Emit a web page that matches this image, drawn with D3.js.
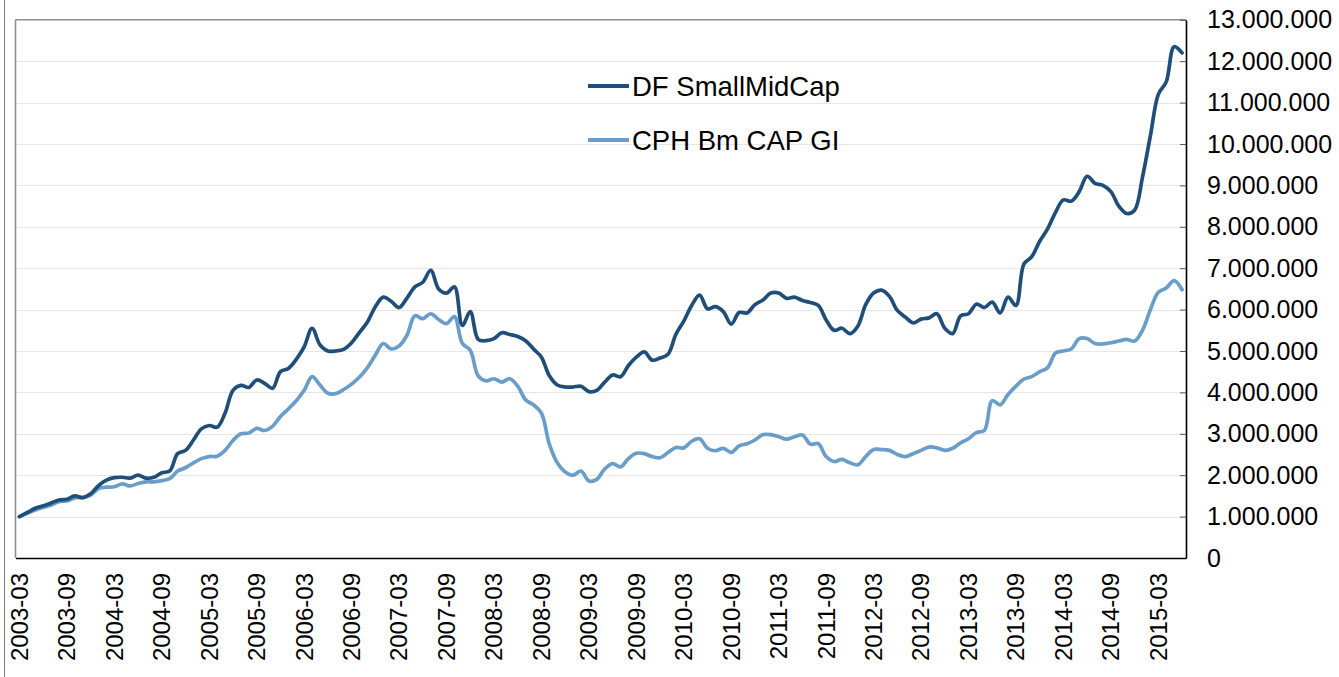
<!DOCTYPE html>
<html>
<head>
<meta charset="utf-8">
<script src="https://cdn.jsdelivr.net/npm/d3@7"></script>
<style>
  html, body { margin: 0; padding: 0; background: #ffffff; }
  svg { display: block; font-family: "Liberation Sans", Arial, Helvetica, sans-serif; }
</style>
</head>
<body>
<svg id="chart" width="1339" height="677"></svg>
<script>
// ---------------- DATA ----------------
const months = [
  "2003-03","2003-04","2003-05","2003-06","2003-07","2003-08","2003-09","2003-10","2003-11","2003-12",
  "2004-01","2004-02","2004-03","2004-04","2004-05","2004-06","2004-07","2004-08","2004-09","2004-10","2004-11","2004-12",
  "2005-01","2005-02","2005-03","2005-04","2005-05","2005-06","2005-07","2005-08","2005-09","2005-10","2005-11","2005-12",
  "2006-01","2006-02","2006-03","2006-04","2006-05","2006-06","2006-07","2006-08","2006-09","2006-10","2006-11","2006-12",
  "2007-01","2007-02","2007-03","2007-04","2007-05","2007-06","2007-07","2007-08","2007-09","2007-10","2007-11","2007-12",
  "2008-01","2008-02","2008-03","2008-04","2008-05","2008-06","2008-07","2008-08","2008-09","2008-10","2008-11","2008-12",
  "2009-01","2009-02","2009-03","2009-04","2009-05","2009-06","2009-07","2009-08","2009-09","2009-10","2009-11","2009-12",
  "2010-01","2010-02","2010-03","2010-04","2010-05","2010-06","2010-07","2010-08","2010-09","2010-10","2010-11","2010-12",
  "2011-01","2011-02","2011-03","2011-04","2011-05","2011-06","2011-07","2011-08","2011-09","2011-10","2011-11","2011-12",
  "2012-01","2012-02","2012-03","2012-04","2012-05","2012-06","2012-07","2012-08","2012-09","2012-10","2012-11","2012-12",
  "2013-01","2013-02","2013-03","2013-04","2013-05","2013-06","2013-07","2013-08","2013-09","2013-10","2013-11","2013-12",
  "2014-01","2014-02","2014-03","2014-04","2014-05","2014-06","2014-07","2014-08","2014-09","2014-10","2014-11","2014-12",
  "2015-01","2015-02","2015-03","2015-04","2015-05","2015-06"
];

// values in millions
const dfSmallMidCap = [
  1.00, 1.10, 1.20, 1.26, 1.33, 1.40, 1.42, 1.50, 1.46, 1.55, 1.75, 1.88,
  1.94, 1.95, 1.93, 2.00, 1.93, 1.95, 2.06, 2.10, 2.52, 2.60, 2.85, 3.12,
  3.20, 3.16, 3.50, 4.05, 4.17, 4.12, 4.30, 4.22, 4.10, 4.50, 4.58, 4.80,
  5.10, 5.55, 5.15, 5.00, 5.00, 5.04, 5.20, 5.45, 5.70, 6.07, 6.30, 6.20,
  6.05, 6.28, 6.55, 6.66, 6.95, 6.50, 6.40, 6.55, 5.62, 5.95, 5.28, 5.25,
  5.30, 5.44, 5.40, 5.35, 5.25, 5.05, 4.85, 4.40, 4.18, 4.13, 4.13, 4.15,
  4.02, 4.05, 4.25, 4.42, 4.38, 4.65, 4.85, 4.98, 4.78, 4.83, 4.92, 5.40,
  5.72, 6.10, 6.35, 6.02, 6.07, 5.95, 5.65, 5.93, 5.92, 6.12, 6.23, 6.40,
  6.40, 6.27, 6.30, 6.22, 6.17, 6.10, 5.75, 5.50, 5.55, 5.42, 5.60, 6.12,
  6.40, 6.47, 6.32, 5.98, 5.82, 5.68, 5.77, 5.80, 5.90, 5.55, 5.42, 5.85,
  5.90, 6.13, 6.05, 6.18, 5.92, 6.30, 6.10, 7.10, 7.28, 7.65, 7.95, 8.35,
  8.65, 8.62, 8.85, 9.22, 9.05, 9.00, 8.85, 8.50, 8.32, 8.40, 9.20, 10.20,
  11.20, 11.50, 12.35, 12.20
];

const cphBmCapGI = [
  1.00, 1.08, 1.16, 1.22, 1.28, 1.36, 1.38, 1.45, 1.46, 1.52, 1.68, 1.71,
  1.72, 1.79, 1.74, 1.80, 1.84, 1.84, 1.87, 1.92, 2.10, 2.18, 2.30, 2.40,
  2.45, 2.46, 2.60, 2.84, 3.00, 3.02, 3.13, 3.08, 3.18, 3.42, 3.60, 3.80,
  4.05, 4.38, 4.18, 3.98, 3.97, 4.07, 4.20, 4.37, 4.60, 4.90, 5.18, 5.05,
  5.12, 5.38, 5.85, 5.78, 5.90, 5.76, 5.66, 5.83, 5.18, 5.02, 4.40, 4.28,
  4.33, 4.25, 4.33, 4.15, 3.82, 3.70, 3.50, 2.75, 2.30, 2.08, 2.00, 2.10,
  1.86, 1.90, 2.15, 2.28, 2.20, 2.40, 2.53, 2.52, 2.45, 2.42, 2.55, 2.67,
  2.66, 2.82, 2.88, 2.65, 2.59, 2.65, 2.55, 2.71, 2.76, 2.85, 2.98, 2.98,
  2.93, 2.87, 2.93, 2.97, 2.75, 2.76, 2.45, 2.33, 2.38, 2.30, 2.25, 2.45,
  2.62, 2.62, 2.60, 2.50, 2.45, 2.52, 2.60, 2.68, 2.66, 2.60, 2.65, 2.78,
  2.88, 3.03, 3.08, 3.80, 3.70, 3.95, 4.15, 4.32, 4.38, 4.50, 4.60, 4.95,
  5.00, 5.05, 5.30, 5.30, 5.18, 5.17, 5.20, 5.24, 5.28, 5.24, 5.50, 6.00,
  6.42, 6.52, 6.70, 6.48
];

const seriesNames = ["DF SmallMidCap", "CPH Bm CAP GI"];
const seriesColors = ["#1f4e79", "#6a9ec8"];

const xTickLabels = [
  "2003-03","2003-09","2004-03","2004-09","2005-03","2005-09","2006-03","2006-09",
  "2007-03","2007-09","2008-03","2008-09","2009-03","2009-09","2010-03","2010-09",
  "2011-03","2011-09","2012-03","2012-09","2013-03","2013-09","2014-03","2014-09","2015-03"
];
const yTickValues = [0, 1000000, 2000000, 3000000, 4000000, 5000000, 6000000, 7000000,
  8000000, 9000000, 10000000, 11000000, 12000000, 13000000];

// ---------------- LAYOUT ----------------
const plot = { left: 15.5, right: 1186, top: 19.8, bottom: 558 };

const svg = d3.select("#chart");

const x = d3.scaleBand().domain(months).range([plot.left, plot.right]).padding(0);
const y = d3.scaleLinear().domain([0, 13000000]).range([plot.bottom, plot.top]);
const xc = m => x(m) + x.bandwidth() / 2;

const locale = d3.formatLocale({ decimal: ",", thousands: ".", grouping: [3], currency: ["", ""] });
const fmt = locale.format(",d");

// outer left rule
svg.append("line").attr("x1", 4.5).attr("x2", 4.5).attr("y1", 0).attr("y2", 677)
  .attr("stroke", "#7a7a7a").attr("stroke-width", 1);

// gridlines
svg.append("g").selectAll("line").data(yTickValues.filter(v => v > 0 && v < 13000000)).join("line")
  .attr("x1", plot.left).attr("x2", plot.right)
  .attr("y1", d => Math.round(y(d)) + 0.5).attr("y2", d => Math.round(y(d)) + 0.5)
  .attr("stroke", "#e6e6e6").attr("stroke-width", 1);

// plot frame: top & left gray
svg.append("line").attr("x1", plot.left).attr("x2", plot.right).attr("y1", plot.top).attr("y2", plot.top)
  .attr("stroke", "#8f8f8f").attr("stroke-width", 1.6);
svg.append("line").attr("x1", plot.left).attr("x2", plot.left).attr("y1", plot.top).attr("y2", plot.bottom)
  .attr("stroke", "#8f8f8f").attr("stroke-width", 1.6);

// lines
const line = d3.line().x((d, i) => xc(months[i])).y(d => y(d * 1e6)).curve(d3.curveCatmullRom.alpha(0.5));
const seriesData = [cphBmCapGI, dfSmallMidCap];
const seriesCol = [seriesColors[1], seriesColors[0]];
svg.append("g").selectAll("path").data(seriesData).join("path")
  .attr("d", d => line(d)).attr("fill", "none")
  .attr("stroke", (d, i) => seriesCol[i]).attr("stroke-width", 3.7)
  .attr("stroke-linejoin", "round").attr("stroke-linecap", "round");

// right axis
const yAxis = d3.axisRight(y).tickValues(yTickValues).tickFormat(fmt).tickSizeInner(-6).tickSizeOuter(0).tickPadding(21);
const gy = svg.append("g").attr("transform", `translate(${plot.right},0)`).call(yAxis);
gy.select(".domain").attr("stroke", "#000").attr("stroke-width", 1.6);
gy.selectAll(".tick line").attr("stroke", "#555").attr("stroke-width", 1);
gy.selectAll(".tick text").attr("font-size", "25px").attr("fill", "#000")
  .attr("font-family", "'Liberation Sans', Arial, sans-serif");

// bottom axis
const xAxis = d3.axisBottom(x).tickValues(xTickLabels).tickSize(0).tickPadding(0);
const gx = svg.append("g").attr("transform", `translate(0,${plot.bottom})`).call(xAxis);
gx.select(".domain").attr("stroke", "#000").attr("stroke-width", 1.6);
gx.selectAll(".tick text")
  .attr("font-size", "24px").attr("fill", "#000")
  .attr("font-family", "'Liberation Sans', Arial, sans-serif")
  .attr("text-anchor", "end")
  .attr("transform", "translate(0,15) rotate(-90)")
  .attr("x", 0).attr("y", 0).attr("dy", "0.35em");

// legend
const legendY = [86, 140];
const legend = svg.append("g");
seriesNames.forEach((name, i) => {
  legend.append("line").attr("x1", 588).attr("x2", 629).attr("y1", legendY[i]).attr("y2", legendY[i])
    .attr("stroke", seriesColors[i]).attr("stroke-width", 4);
  legend.append("text").attr("x", 632).attr("y", legendY[i]).attr("dy", "0.35em")
    .attr("font-size", "27.5px").attr("fill", "#000").text(name);
});
</script>
</body>
</html>
